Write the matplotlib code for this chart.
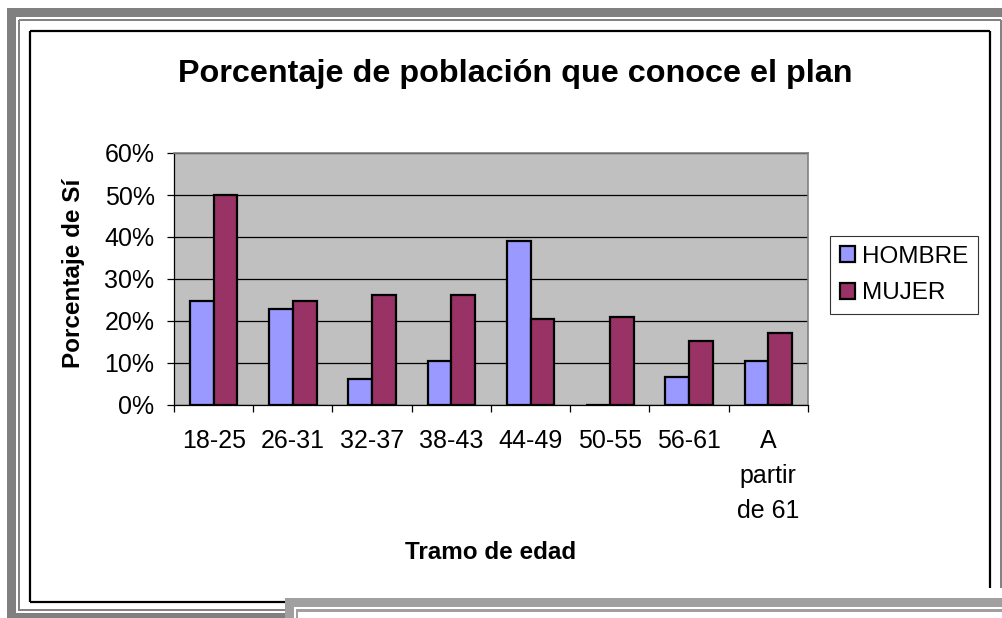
import matplotlib
matplotlib.use("Agg")
import matplotlib.pyplot as plt
import numpy as np
from matplotlib.patches import Rectangle
from matplotlib.lines import Line2D
from matplotlib.ticker import PercentFormatter

plt.rcParams["font.family"] = ["Liberation Sans", "DejaVu Sans"]

# ── Data ──────────────────────────────────────────────────────────────────────
tramos = ["18-25", "26-31", "32-37", "38-43", "44-49", "50-55", "56-61", "A\npartir\nde 61"]
hombre = [0.248, 0.229, 0.063, 0.105, 0.391, 0.0, 0.067, 0.105]
mujer = [0.500, 0.248, 0.262, 0.262, 0.205, 0.210, 0.153, 0.172]
series = ["HOMBRE", "MUJER"]
colores = ["#9999FF", "#993366"]

W, H = 1003, 618
fig = plt.figure(figsize=(W / 100, H / 100), dpi=100)


def px_rect(x0, y0, x1, y1, color):
    # rectangle given in pixel coords, origin top-left
    fig.patches.append(Rectangle((x0 / W, 1 - y1 / H), (x1 - x0) / W, (y1 - y0) / H,
                                 transform=fig.transFigure, facecolor=color,
                                 edgecolor="none", zorder=0))


def px_line(xs, ys, color, lw):
    fig.lines.append(Line2D([x / W for x in xs], [1 - y / H for y in ys],
                            transform=fig.transFigure, color=color, lw=lw,
                            solid_capstyle="butt"))


# ── Frames around the chart ──────────────────────────────────────────────────
dark, light = "#808080", "#A0A0A0"
px_rect(7, 8, W, 16.5, dark)
px_rect(7, 8, 16, H, dark)
px_rect(7, 613, 285, H, dark)
px_line([19, 19], [611, 19.5], dark, 1.4)
px_line([19, 1001.5], [19.5, 19.5], dark, 1.4)
px_line([1001.5, 1001.5], [19.5, 588], dark, 1.4)
px_line([19, 285], [610, 610], dark, 1.4)

px_line([30, 990], [31, 31], "black", 1.6)
px_line([30, 30], [31, 602], "black", 1.6)
px_line([30, 285], [602, 602], "black", 1.6)
px_line([990, 990], [31, 588], "black", 1.6)

px_rect(285, 598, W, 607, light)
px_rect(285, 598, 294, H, light)
px_rect(296, 609, W, 611.5, light)
px_rect(296, 609, 298.5, H, light)

# ── Chart ────────────────────────────────────────────────────────────────────
ax = fig.add_axes([174 / W, 1 - 405 / H, (808 - 174) / W, (405 - 153) / H])
ax.set_facecolor("#C0C0C0")

x = np.arange(len(tramos))
bw = 0.3
ax.bar(x - bw / 2, hombre, bw, color=colores[0], edgecolor="black", lw=1.6,
       label=series[0], zorder=3)
ax.bar(x + bw / 2, mujer, bw, color=colores[1], edgecolor="black", lw=1.6,
       label=series[1], zorder=3)

ax.set_xlim(-0.5, len(tramos) - 0.5)
ax.set_ylim(0, 0.6)
ax.set_yticks(np.arange(0, 0.61, 0.1))
ax.yaxis.set_major_formatter(PercentFormatter(1.0, decimals=0))
ax.yaxis.grid(True, color="black", lw=0.9)
ax.set_axisbelow(True)

ax.set_xticks(np.arange(-0.5, len(tramos), 1.0))
ax.set_xticklabels([])
ax.set_xticks(x, minor=True)
ax.set_xticklabels(tramos, minor=True, fontsize=18, linespacing=1.6)
ax.tick_params(axis="x", which="major", direction="out", length=5, width=0.9)
ax.tick_params(axis="x", which="minor", length=0, pad=17)
ax.tick_params(axis="y", direction="out", length=5, width=0.9, labelsize=18, pad=9)

for side in ["top", "right"]:
    ax.spines[side].set_color("#808080")
    ax.spines[side].set_linewidth(1.2)
for side in ["left", "bottom"]:
    ax.spines[side].set_color("black")
    ax.spines[side].set_linewidth(0.9)

fig.text(515 / W, 1 - 82 / H, "Porcentaje de población que conoce el plan",
         ha="center", va="baseline", fontsize=23.3, fontweight="bold")
fig.text(491 / W, 1 - 559 / H, "Tramo de edad", ha="center", va="baseline",
         fontsize=17.5, fontweight="bold")
fig.text(74 / W, 1 - 273 / H, "Porcentaje de Sí", ha="center", va="center",
         rotation=90, fontsize=17.5, fontweight="bold")

leg = fig.legend(loc="upper left", bbox_to_anchor=(830 / W, 1 - 236 / H),
                 frameon=True, fancybox=False, fontsize=17.5, borderaxespad=0,
                 handlelength=0.62, handleheight=0.62, handletextpad=0.3,
                 labelspacing=0.6, borderpad=0.4)
leg.get_frame().set_edgecolor("black")
leg.get_frame().set_linewidth(0.8)

fig.savefig("out.png", dpi=100, facecolor="white")
